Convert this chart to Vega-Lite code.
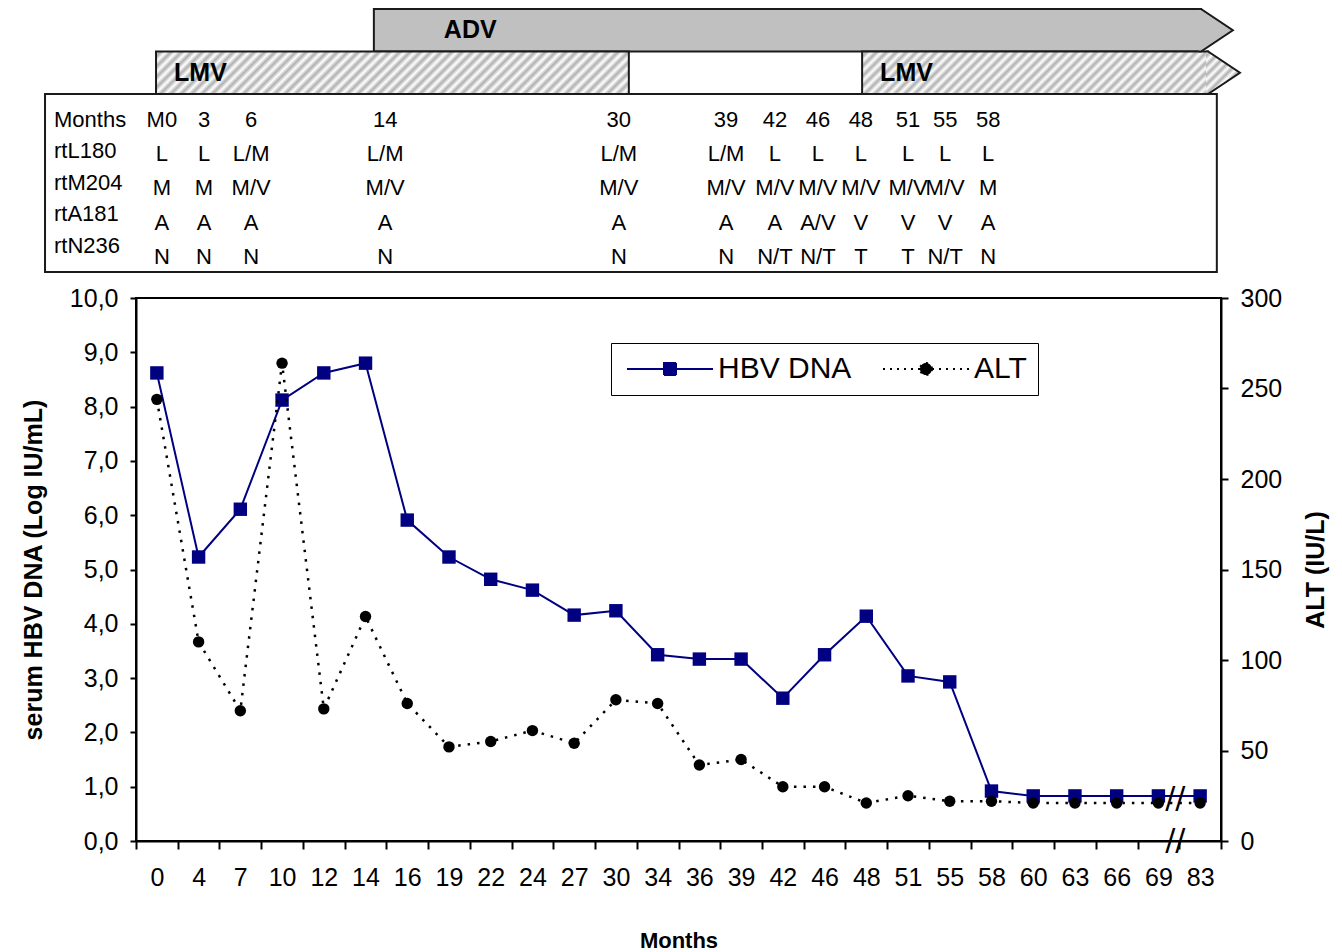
{
  "$schema": "https://vega.github.io/schema/vega-lite/v6.json",
  "background": "white",
  "padding": {"left": 20, "top": 5, "right": 5, "bottom": 5},
  "config": {
    "font": "Liberation Sans",
    "view": {"stroke": null},
    "axis": {"labelFont": "Liberation Sans", "titleFont": "Liberation Sans", "labelColor": "black", "titleColor": "black", "domainColor": "black", "tickColor": "black", "grid": false},
    "text": {"font": "Liberation Sans", "color": "black"}
  },
  "datasets": {
    "arrows": [
      {"drug": "ADV", "from": 5.70, "to": 25.52, "ongoing": true},
      {"drug": "LMV", "from": 0.48, "to": 11.81, "ongoing": false},
      {"drug": "LMV", "from": 17.40, "to": 25.69, "ongoing": true}
    ],
    "table": [
      {"at": 0.62, "Months": "M0", "rtL180": "L", "rtM204": "M", "rtA181": "A", "rtN236": "N"},
      {"at": 1.63, "Months": "3", "rtL180": "L", "rtM204": "M", "rtA181": "A", "rtN236": "N"},
      {"at": 2.76, "Months": "6", "rtL180": "L/M", "rtM204": "M/V", "rtA181": "A", "rtN236": "N"},
      {"at": 5.97, "Months": "14", "rtL180": "L/M", "rtM204": "M/V", "rtA181": "A", "rtN236": "N"},
      {"at": 11.57, "Months": "30", "rtL180": "L/M", "rtM204": "M/V", "rtA181": "A", "rtN236": "N"},
      {"at": 14.14, "Months": "39", "rtL180": "L/M", "rtM204": "M/V", "rtA181": "A", "rtN236": "N"},
      {"at": 15.31, "Months": "42", "rtL180": "L", "rtM204": "M/V", "rtA181": "A", "rtN236": "N/T"},
      {"at": 16.34, "Months": "46", "rtL180": "L", "rtM204": "M/V", "rtA181": "A/V", "rtN236": "N/T"},
      {"at": 17.37, "Months": "48", "rtL180": "L", "rtM204": "M/V", "rtA181": "V", "rtN236": "T"},
      {"at": 18.50, "Months": "51", "rtL180": "L", "rtM204": "M/V", "rtA181": "V", "rtN236": "T"},
      {"at": 19.39, "Months": "55", "rtL180": "L", "rtM204": "M/V", "rtA181": "V", "rtN236": "N/T"},
      {"at": 20.42, "Months": "58", "rtL180": "L", "rtM204": "M", "rtA181": "A", "rtN236": "N"}
    ],
    "chart": [
      {"month": "0", "hbv": 8.62, "alt": 244},
      {"month": "4", "hbv": 5.23, "alt": 110},
      {"month": "7", "hbv": 6.11, "alt": 72},
      {"month": "10", "hbv": 8.12, "alt": 264},
      {"month": "12", "hbv": 8.62, "alt": 73},
      {"month": "14", "hbv": 8.8, "alt": 124},
      {"month": "16", "hbv": 5.91, "alt": 76},
      {"month": "19", "hbv": 5.23, "alt": 52},
      {"month": "22", "hbv": 4.82, "alt": 55},
      {"month": "24", "hbv": 4.62, "alt": 61},
      {"month": "27", "hbv": 4.16, "alt": 54},
      {"month": "30", "hbv": 4.24, "alt": 78},
      {"month": "34", "hbv": 3.43, "alt": 76},
      {"month": "36", "hbv": 3.35, "alt": 42},
      {"month": "39", "hbv": 3.35, "alt": 45},
      {"month": "42", "hbv": 2.63, "alt": 30},
      {"month": "46", "hbv": 3.43, "alt": 30},
      {"month": "48", "hbv": 4.14, "alt": 21},
      {"month": "51", "hbv": 3.04, "alt": 25},
      {"month": "55", "hbv": 2.93, "alt": 22},
      {"month": "58", "hbv": 0.92, "alt": 22},
      {"month": "60", "hbv": 0.83, "alt": 21},
      {"month": "63", "hbv": 0.83, "alt": 21},
      {"month": "66", "hbv": 0.83, "alt": 21},
      {"month": "69", "hbv": 0.83, "alt": 21},
      {"month": "83", "hbv": 0.83, "alt": 21}
    ]
  },
  "bounds": "flush",
  "spacing": 0,
  "vconcat": [
    {
      "width": 1085,
      "height": 85,
      "data": {"name": "arrows"},
      "encoding": {
        "y": {"field": "drug", "type": "nominal", "scale": {"type": "band", "domain": ["ADV", "LMV"], "paddingInner": 0, "paddingOuter": 0}, "axis": null}
      },
      "layer": [
        {
          "transform": [{"filter": "datum.drug === 'ADV'"}],
          "mark": {"type": "rect", "fill": "#c0c0c0", "stroke": "#1a1a1a", "strokeWidth": 2},
          "encoding": {
            "x": {"field": "from", "type": "quantitative", "scale": {"domain": [0, 26], "nice": false, "zero": false}, "axis": null},
            "x2": {"field": "to"}
          }
        },
        {
          "transform": [{"filter": "datum.drug === 'LMV' && !datum.ongoing"}],
          "mark": {"type": "rect", "stroke": "#1a1a1a", "strokeWidth": 2,
            "fill": {"gradient": "linear", "x1": 0, "y1": 0, "x2": 1.09, "y2": 0.098, "stops": [
              {"offset": 0, "color": "#ffffff"}, {"offset": 0.01, "color": "#b0b0b0"}, {"offset": 0.02, "color": "#ffffff"}, {"offset": 0.03, "color": "#b0b0b0"}, {"offset": 0.04, "color": "#ffffff"}, {"offset": 0.05, "color": "#b0b0b0"}, {"offset": 0.06, "color": "#ffffff"}, {"offset": 0.07, "color": "#b0b0b0"}, {"offset": 0.08, "color": "#ffffff"}, {"offset": 0.09, "color": "#b0b0b0"},
              {"offset": 0.10, "color": "#ffffff"}, {"offset": 0.11, "color": "#b0b0b0"}, {"offset": 0.12, "color": "#ffffff"}, {"offset": 0.13, "color": "#b0b0b0"}, {"offset": 0.14, "color": "#ffffff"}, {"offset": 0.15, "color": "#b0b0b0"}, {"offset": 0.16, "color": "#ffffff"}, {"offset": 0.17, "color": "#b0b0b0"}, {"offset": 0.18, "color": "#ffffff"}, {"offset": 0.19, "color": "#b0b0b0"},
              {"offset": 0.20, "color": "#ffffff"}, {"offset": 0.21, "color": "#b0b0b0"}, {"offset": 0.22, "color": "#ffffff"}, {"offset": 0.23, "color": "#b0b0b0"}, {"offset": 0.24, "color": "#ffffff"}, {"offset": 0.25, "color": "#b0b0b0"}, {"offset": 0.26, "color": "#ffffff"}, {"offset": 0.27, "color": "#b0b0b0"}, {"offset": 0.28, "color": "#ffffff"}, {"offset": 0.29, "color": "#b0b0b0"},
              {"offset": 0.30, "color": "#ffffff"}, {"offset": 0.31, "color": "#b0b0b0"}, {"offset": 0.32, "color": "#ffffff"}, {"offset": 0.33, "color": "#b0b0b0"}, {"offset": 0.34, "color": "#ffffff"}, {"offset": 0.35, "color": "#b0b0b0"}, {"offset": 0.36, "color": "#ffffff"}, {"offset": 0.37, "color": "#b0b0b0"}, {"offset": 0.38, "color": "#ffffff"}, {"offset": 0.39, "color": "#b0b0b0"},
              {"offset": 0.40, "color": "#ffffff"}, {"offset": 0.41, "color": "#b0b0b0"}, {"offset": 0.42, "color": "#ffffff"}, {"offset": 0.43, "color": "#b0b0b0"}, {"offset": 0.44, "color": "#ffffff"}, {"offset": 0.45, "color": "#b0b0b0"}, {"offset": 0.46, "color": "#ffffff"}, {"offset": 0.47, "color": "#b0b0b0"}, {"offset": 0.48, "color": "#ffffff"}, {"offset": 0.49, "color": "#b0b0b0"},
              {"offset": 0.50, "color": "#ffffff"}, {"offset": 0.51, "color": "#b0b0b0"}, {"offset": 0.52, "color": "#ffffff"}, {"offset": 0.53, "color": "#b0b0b0"}, {"offset": 0.54, "color": "#ffffff"}, {"offset": 0.55, "color": "#b0b0b0"}, {"offset": 0.56, "color": "#ffffff"}, {"offset": 0.57, "color": "#b0b0b0"}, {"offset": 0.58, "color": "#ffffff"}, {"offset": 0.59, "color": "#b0b0b0"},
              {"offset": 0.60, "color": "#ffffff"}, {"offset": 0.61, "color": "#b0b0b0"}, {"offset": 0.62, "color": "#ffffff"}, {"offset": 0.63, "color": "#b0b0b0"}, {"offset": 0.64, "color": "#ffffff"}, {"offset": 0.65, "color": "#b0b0b0"}, {"offset": 0.66, "color": "#ffffff"}, {"offset": 0.67, "color": "#b0b0b0"}, {"offset": 0.68, "color": "#ffffff"}, {"offset": 0.69, "color": "#b0b0b0"},
              {"offset": 0.70, "color": "#ffffff"}, {"offset": 0.71, "color": "#b0b0b0"}, {"offset": 0.72, "color": "#ffffff"}, {"offset": 0.73, "color": "#b0b0b0"}, {"offset": 0.74, "color": "#ffffff"}, {"offset": 0.75, "color": "#b0b0b0"}, {"offset": 0.76, "color": "#ffffff"}, {"offset": 0.77, "color": "#b0b0b0"}, {"offset": 0.78, "color": "#ffffff"}, {"offset": 0.79, "color": "#b0b0b0"},
              {"offset": 0.80, "color": "#ffffff"}, {"offset": 0.81, "color": "#b0b0b0"}, {"offset": 0.82, "color": "#ffffff"}, {"offset": 0.83, "color": "#b0b0b0"}, {"offset": 0.84, "color": "#ffffff"}, {"offset": 0.85, "color": "#b0b0b0"}, {"offset": 0.86, "color": "#ffffff"}, {"offset": 0.87, "color": "#b0b0b0"}, {"offset": 0.88, "color": "#ffffff"}, {"offset": 0.89, "color": "#b0b0b0"},
              {"offset": 0.90, "color": "#ffffff"}, {"offset": 0.91, "color": "#b0b0b0"}, {"offset": 0.92, "color": "#ffffff"}, {"offset": 0.93, "color": "#b0b0b0"}, {"offset": 0.94, "color": "#ffffff"}, {"offset": 0.95, "color": "#b0b0b0"}, {"offset": 0.96, "color": "#ffffff"}, {"offset": 0.97, "color": "#b0b0b0"}, {"offset": 0.98, "color": "#ffffff"}, {"offset": 0.99, "color": "#b0b0b0"},
              {"offset": 1, "color": "#ffffff"}
            ]}},
          "encoding": {
            "x": {"field": "from", "type": "quantitative", "scale": {"domain": [0, 26], "nice": false, "zero": false}, "axis": null},
            "x2": {"field": "to"}
          }
        },
        {
          "transform": [{"filter": "datum.drug === 'LMV' && datum.ongoing"}],
          "mark": {"type": "rect", "stroke": "#1a1a1a", "strokeWidth": 2,
            "fill": {"gradient": "linear", "x1": 0, "y1": 0, "x2": 1.4236, "y2": 0.1748, "stops": [
              {"offset": 0, "color": "#ffffff"}, {"offset": 0.01, "color": "#b0b0b0"}, {"offset": 0.02, "color": "#ffffff"}, {"offset": 0.03, "color": "#b0b0b0"}, {"offset": 0.04, "color": "#ffffff"}, {"offset": 0.05, "color": "#b0b0b0"}, {"offset": 0.06, "color": "#ffffff"}, {"offset": 0.07, "color": "#b0b0b0"}, {"offset": 0.08, "color": "#ffffff"}, {"offset": 0.09, "color": "#b0b0b0"},
              {"offset": 0.10, "color": "#ffffff"}, {"offset": 0.11, "color": "#b0b0b0"}, {"offset": 0.12, "color": "#ffffff"}, {"offset": 0.13, "color": "#b0b0b0"}, {"offset": 0.14, "color": "#ffffff"}, {"offset": 0.15, "color": "#b0b0b0"}, {"offset": 0.16, "color": "#ffffff"}, {"offset": 0.17, "color": "#b0b0b0"}, {"offset": 0.18, "color": "#ffffff"}, {"offset": 0.19, "color": "#b0b0b0"},
              {"offset": 0.20, "color": "#ffffff"}, {"offset": 0.21, "color": "#b0b0b0"}, {"offset": 0.22, "color": "#ffffff"}, {"offset": 0.23, "color": "#b0b0b0"}, {"offset": 0.24, "color": "#ffffff"}, {"offset": 0.25, "color": "#b0b0b0"}, {"offset": 0.26, "color": "#ffffff"}, {"offset": 0.27, "color": "#b0b0b0"}, {"offset": 0.28, "color": "#ffffff"}, {"offset": 0.29, "color": "#b0b0b0"},
              {"offset": 0.30, "color": "#ffffff"}, {"offset": 0.31, "color": "#b0b0b0"}, {"offset": 0.32, "color": "#ffffff"}, {"offset": 0.33, "color": "#b0b0b0"}, {"offset": 0.34, "color": "#ffffff"}, {"offset": 0.35, "color": "#b0b0b0"}, {"offset": 0.36, "color": "#ffffff"}, {"offset": 0.37, "color": "#b0b0b0"}, {"offset": 0.38, "color": "#ffffff"}, {"offset": 0.39, "color": "#b0b0b0"},
              {"offset": 0.40, "color": "#ffffff"}, {"offset": 0.41, "color": "#b0b0b0"}, {"offset": 0.42, "color": "#ffffff"}, {"offset": 0.43, "color": "#b0b0b0"}, {"offset": 0.44, "color": "#ffffff"}, {"offset": 0.45, "color": "#b0b0b0"}, {"offset": 0.46, "color": "#ffffff"}, {"offset": 0.47, "color": "#b0b0b0"}, {"offset": 0.48, "color": "#ffffff"}, {"offset": 0.49, "color": "#b0b0b0"},
              {"offset": 0.50, "color": "#ffffff"}, {"offset": 0.51, "color": "#b0b0b0"}, {"offset": 0.52, "color": "#ffffff"}, {"offset": 0.53, "color": "#b0b0b0"}, {"offset": 0.54, "color": "#ffffff"}, {"offset": 0.55, "color": "#b0b0b0"}, {"offset": 0.56, "color": "#ffffff"}, {"offset": 0.57, "color": "#b0b0b0"}, {"offset": 0.58, "color": "#ffffff"}, {"offset": 0.59, "color": "#b0b0b0"},
              {"offset": 0.60, "color": "#ffffff"}, {"offset": 0.61, "color": "#b0b0b0"}, {"offset": 0.62, "color": "#ffffff"}, {"offset": 0.63, "color": "#b0b0b0"}, {"offset": 0.64, "color": "#ffffff"}, {"offset": 0.65, "color": "#b0b0b0"}, {"offset": 0.66, "color": "#ffffff"}, {"offset": 0.67, "color": "#b0b0b0"}, {"offset": 0.68, "color": "#ffffff"}, {"offset": 0.69, "color": "#b0b0b0"},
              {"offset": 0.70, "color": "#ffffff"}, {"offset": 0.71, "color": "#b0b0b0"}, {"offset": 0.72, "color": "#ffffff"}, {"offset": 0.73, "color": "#b0b0b0"}, {"offset": 0.74, "color": "#ffffff"}, {"offset": 0.75, "color": "#b0b0b0"}, {"offset": 0.76, "color": "#ffffff"}, {"offset": 0.77, "color": "#b0b0b0"}, {"offset": 0.78, "color": "#ffffff"}, {"offset": 0.79, "color": "#b0b0b0"},
              {"offset": 0.80, "color": "#ffffff"}, {"offset": 0.81, "color": "#b0b0b0"}, {"offset": 0.82, "color": "#ffffff"}, {"offset": 0.83, "color": "#b0b0b0"}, {"offset": 0.84, "color": "#ffffff"}, {"offset": 0.85, "color": "#b0b0b0"}, {"offset": 0.86, "color": "#ffffff"}, {"offset": 0.87, "color": "#b0b0b0"}, {"offset": 0.88, "color": "#ffffff"}, {"offset": 0.89, "color": "#b0b0b0"},
              {"offset": 0.90, "color": "#ffffff"}, {"offset": 0.91, "color": "#b0b0b0"}, {"offset": 0.92, "color": "#ffffff"}, {"offset": 0.93, "color": "#b0b0b0"}, {"offset": 0.94, "color": "#ffffff"}, {"offset": 0.95, "color": "#b0b0b0"}, {"offset": 0.96, "color": "#ffffff"}, {"offset": 0.97, "color": "#b0b0b0"}, {"offset": 0.98, "color": "#ffffff"}, {"offset": 0.99, "color": "#b0b0b0"},
              {"offset": 1, "color": "#ffffff"}
            ]}},
          "encoding": {
            "x": {"field": "from", "type": "quantitative", "scale": {"domain": [0, 26], "nice": false, "zero": false}, "axis": null},
            "x2": {"field": "to"}
          }
        },
        {
          "transform": [{"filter": "datum.drug === 'ADV' && datum.ongoing"}],
          "mark": {"type": "point", "shape": "M-0.1,-1L0,-1L1.5,0L0,1L-0.1,1", "size": 1806, "filled": true, "fill": "#c0c0c0", "stroke": "#1a1a1a", "strokeWidth": 2, "opacity": 1},
          "encoding": {
            "x": {"field": "to", "type": "quantitative", "scale": {"domain": [0, 26], "nice": false, "zero": false}, "axis": null}
          }
        },
        {
          "transform": [{"filter": "datum.drug === 'LMV' && datum.ongoing"}],
          "mark": {"type": "point", "shape": "M-0.1,-1L0,-1L1.5,0L0,1L-0.1,1", "size": 1806, "filled": true, "stroke": "#1a1a1a", "strokeWidth": 2, "opacity": 1,
            "fill": {"gradient": "linear", "x1": 0, "y1": 0, "x2": 0.878, "y2": 1.0975, "stops": [
              {"offset": 0, "color": "#ffffff"}, {"offset": 0.0625, "color": "#b0b0b0"}, {"offset": 0.125, "color": "#ffffff"}, {"offset": 0.1875, "color": "#b0b0b0"}, {"offset": 0.25, "color": "#ffffff"}, {"offset": 0.3125, "color": "#b0b0b0"}, {"offset": 0.375, "color": "#ffffff"}, {"offset": 0.4375, "color": "#b0b0b0"}, {"offset": 0.5, "color": "#ffffff"},
              {"offset": 0.5625, "color": "#b0b0b0"}, {"offset": 0.625, "color": "#ffffff"}, {"offset": 0.6875, "color": "#b0b0b0"}, {"offset": 0.75, "color": "#ffffff"}, {"offset": 0.8125, "color": "#b0b0b0"}, {"offset": 0.875, "color": "#ffffff"}, {"offset": 0.9375, "color": "#b0b0b0"}, {"offset": 1, "color": "#ffffff"}
            ]}},
          "encoding": {
            "x": {"field": "to", "type": "quantitative", "scale": {"domain": [0, 26], "nice": false, "zero": false}, "axis": null}
          }
        },
        {
          "transform": [{"filter": "datum.drug === 'ADV'"}],
          "mark": {"type": "text", "align": "left", "baseline": "middle", "dx": 70, "fontSize": 25, "fontWeight": "bold", "font": "Liberation Sans"},
          "encoding": {
            "x": {"field": "from", "type": "quantitative", "scale": {"domain": [0, 26], "nice": false, "zero": false}, "axis": null},
            "text": {"field": "drug"}
          }
        },
        {
          "transform": [{"filter": "datum.drug === 'LMV'"}],
          "mark": {"type": "text", "align": "left", "baseline": "middle", "dx": 18, "fontSize": 25, "fontWeight": "bold", "font": "Liberation Sans"},
          "encoding": {
            "x": {"field": "from", "type": "quantitative", "scale": {"domain": [0, 26], "nice": false, "zero": false}, "axis": null},
            "text": {"field": "drug"}
          }
        }
      ]
    },
    {
      "width": 1085,
      "height": 204,
      "data": {"name": "table"},
      "transform": [{"fold": ["Months", "rtL180", "rtM204", "rtA181", "rtN236"], "as": ["gene", "v"]}],
      "layer": [
        {
          "transform": [{"aggregate": [{"op": "count", "as": "n"}], "groupby": []}],
          "mark": {"type": "rect", "fill": "white", "fillOpacity": 0, "stroke": "#1a1a1a", "strokeWidth": 2},
          "encoding": {
            "x": {"datum": -2.18, "type": "quantitative", "scale": {"domain": [0, 26], "nice": false, "zero": false}, "axis": null},
            "x2": {"datum": 25.9},
            "y": {"datum": "box", "type": "nominal", "scale": {"type": "band", "domain": ["box"], "paddingInner": 0, "paddingOuter": 0.073, "align": 0}, "axis": null}
          }
        },
        {
          "transform": [{"aggregate": [{"op": "count", "as": "n"}], "groupby": ["gene"]}],
          "mark": {"type": "text", "align": "left", "baseline": "middle", "fontSize": 22},
          "encoding": {
            "x": {"datum": -1.965, "type": "quantitative", "scale": {"domain": [0, 26], "nice": false, "zero": false}, "axis": null},
            "y": {"field": "gene", "type": "nominal", "scale": {"type": "point", "domain": ["Months", "rtL180", "rtM204", "rtA181", "rtN236", "_"], "padding": 0.738, "align": 0.559}, "axis": null},
            "text": {"field": "gene"}
          }
        },
        {
          "mark": {"type": "text", "align": "center", "baseline": "middle", "fontSize": 22},
          "encoding": {
            "x": {"field": "at", "type": "quantitative", "scale": {"domain": [0, 26], "nice": false, "zero": false}, "axis": null},
            "y": {"field": "gene", "type": "nominal", "scale": {"type": "point", "domain": ["Months", "rtL180", "rtM204", "rtA181", "rtN236"], "padding": 0.978, "align": 0.388}, "axis": null},
            "text": {"field": "v"}
          }
        }
      ],
      "resolve": {"scale": {"y": "independent"}}
    },
    {
      "width": 1085,
      "height": 543,
      "view": {"stroke": "black", "strokeWidth": 2},
      "data": {"name": "chart"},
      "encoding": {
        "x": {
          "field": "month", "type": "nominal", "sort": null,
          "scale": {"type": "band", "domain": ["0","4","7","10","12","14","16","19","22","24","27","30","34","36","39","42","46","48","51","55","58","60","63","66","69","83"], "paddingInner": 0, "paddingOuter": 0},
          "axis": {"title": "Months", "labelAngle": 0, "tickBand": "extent", "labelFontSize": 25, "labelPadding": 16, "tickSize": 8, "tickWidth": 2, "domainWidth": 2, "titleFontSize": 22, "titleFontWeight": "bold", "titlePadding": 40, "labelOverlap": false}
        }
      },
      "layer": [
        {
          "mark": {"type": "line", "color": "#000080", "strokeWidth": 2},
          "encoding": {
            "y": {"field": "hbv", "type": "quantitative", "scale": {"domain": [0, 10], "nice": false},
              "axis": {"orient": "left", "values": [0,1,2,3,4,5,6,7,8,9,10], "labelExpr": "replace(format(datum.value, '.1f'), '.', ',')", "title": "serum HBV DNA (Log IU/mL)", "titleFontSize": 25, "titleFontWeight": "bold", "labelFontSize": 25, "tickSize": 6, "labelPadding": 12, "titlePadding": 23, "domainWidth": 2, "tickWidth": 2}},
            "order": {"value": null}
          }
        },
        {
          "mark": {"type": "point", "shape": "square", "filled": true, "color": "#000080", "size": 180, "opacity": 1},
          "encoding": {
            "y": {"field": "hbv", "type": "quantitative", "scale": {"domain": [0, 10], "nice": false}, "axis": null}
          }
        },
        {
          "mark": {"type": "line", "color": "black", "strokeWidth": 2.5, "strokeDash": [2.5, 7]},
          "encoding": {
            "y": {"field": "alt", "type": "quantitative", "scale": {"domain": [0, 300], "nice": false},
              "axis": {"orient": "right", "values": [0,50,100,150,200,250,300], "title": "ALT (IU/L)", "titleAngle": 270, "titleBaseline": "top", "titleFontSize": 25, "titleFontWeight": "bold", "labelFontSize": 25, "tickSize": 7, "labelPadding": 12, "titlePadding": 22, "domainWidth": 2, "tickWidth": 2}},
            "order": {"value": null}
          }
        },
        {
          "mark": {"type": "point", "shape": "circle", "filled": true, "color": "black", "size": 130, "opacity": 1},
          "encoding": {
            "y": {"field": "alt", "type": "quantitative", "scale": {"domain": [0, 300], "nice": false}, "axis": null}
          }
        },
        {
          "transform": [{"aggregate": [{"op": "count", "as": "n"}], "groupby": []}],
          "mark": {"type": "text", "text": "//", "fontSize": 30, "font": "DejaVu Sans", "align": "center", "baseline": "middle", "dx": -4},
          "encoding": {
            "x": {"datum": "69", "bandPosition": 1},
            "y": {"datum": 0.78, "type": "quantitative", "scale": {"domain": [0, 10], "nice": false}, "axis": null}
          }
        },
        {
          "transform": [{"aggregate": [{"op": "count", "as": "n"}], "groupby": []}],
          "mark": {"type": "text", "text": "//", "fontSize": 30, "font": "DejaVu Sans", "align": "center", "baseline": "middle", "dx": -4},
          "encoding": {
            "x": {"datum": "69", "bandPosition": 1},
            "y": {"datum": 0, "type": "quantitative", "scale": {"domain": [0, 10], "nice": false}, "axis": null}
          }
        },
        {
          "transform": [{"filter": "false"}],
          "mark": {"type": "point", "filled": true, "opacity": 1, "strokeWidth": 2},
          "encoding": {
            "fill": {
              "field": "series", "type": "nominal",
              "scale": {"domain": ["HBV DNA", "ALT"], "range": ["#000080", "#000000"]},
              "legend": {
                "orient": "none", "legendX": 475, "legendY": 334, "direction": "horizontal", "title": null,
                "strokeColor": "black", "fillColor": "white", "padding": 11,
                "labelFont": "Liberation Sans", "labelFontSize": 30, "labelColor": "black", "labelLimit": 0,
                "symbolSize": 400, "labelOffset": 66, "columnPadding": 26, "symbolStrokeWidth": 2, "symbolOpacity": 1
              }
            },
            "stroke": {
              "field": "series", "type": "nominal",
              "scale": {"domain": ["HBV DNA", "ALT"], "range": ["#000080", "#000000"]}
            },
            "shape": {
              "field": "series", "type": "nominal",
              "scale": {"domain": ["HBV DNA", "ALT"], "range": ["M-1,0H7.6M2.7,-0.6H3.9V0.6H2.7Z", "M-1,0H7.6M3.9,0A0.6,0.6,0,1,1,2.7,0A0.6,0.6,0,1,1,3.9,0Z"]}
            },
            "strokeDash": {
              "field": "series", "type": "nominal",
              "scale": {"domain": ["HBV DNA", "ALT"], "range": [[1, 0], [2, 5]]}
            }
          }
        }
      ],
      "resolve": {"scale": {"y": "independent"}}
    }
  ]
}
